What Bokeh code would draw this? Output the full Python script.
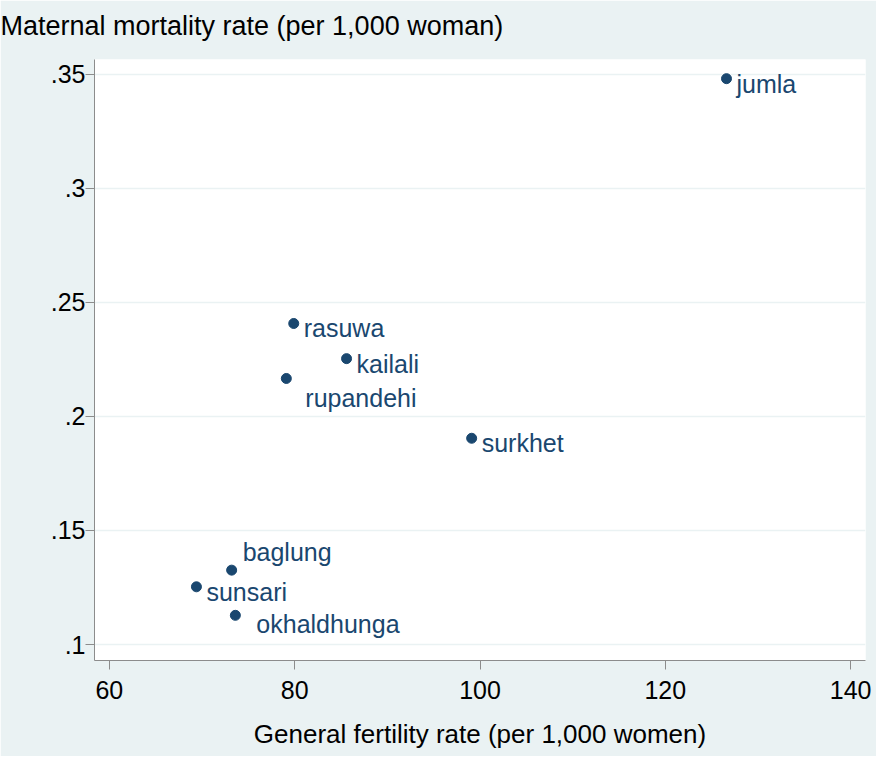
from bokeh.plotting import figure
from bokeh.models import Range1d, FixedTicker, CustomJSTickFormatter, ColumnDataSource, Title
from bokeh.embed import file_html
from bokeh.resources import INLINE

# ---- data ----
districts = ["jumla", "rasuwa", "kailali", "rupandehi", "surkhet", "baglung", "sunsari", "okhaldhunga"]
fertility_rate = [126.6, 79.9, 85.6, 79.1, 99.1, 73.2, 69.4, 73.6]
mortality_rate = [0.348, 0.2407, 0.2253, 0.2166, 0.1904, 0.1326, 0.1253, 0.1128]
label_clock = [3, 3, 3, 5, 3, 1, 3, 4]   # Stata-style marker label positions

x_ticks = [60, 80, 100, 120, 140]
y_ticks = [0.1, 0.15, 0.2, 0.25, 0.3, 0.35]
y_tick_labels = [".1", ".15", ".2", ".25", ".3", ".35"]

x_title = "General fertility rate (per 1,000 women)"
y_title = "Maternal mortality rate (per 1,000 woman)"

x_lim = (58.4, 141.6)
y_lim = (0.093, 0.3564)

# ---- styling ----
BG = "#EAF2F3"
NAVY = "#1a476f"
AXIS = "#8c8c8c"
FONT = "Liberation Sans"
clock_offsets = {3: (10, 5), 5: (19, 20), 4: (21, 9), 1: (11, -18)}

src = ColumnDataSource(dict(
    x=fertility_rate, y=mortality_rate, name=districts,
    xo=[clock_offsets[c][0] for c in label_clock],
    yo=[clock_offsets[c][1] for c in label_clock],
))

p = figure(width=878, height=758, output_backend="svg", toolbar_location=None,
           x_range=Range1d(*x_lim), y_range=Range1d(*y_lim), title=None,
           min_border_left=94, min_border_right=13, min_border_top=59, min_border_bottom=98)
p.styles = {"border-left": "2px solid black", "border-top": "2px solid black",
            "margin-left": "-2px", "margin-top": "-2px"}

p.background_fill_color = "white"
p.border_fill_color = BG
p.outline_line_color = None

# y-axis title placed Stata-style, horizontally above the plot region (with a spacer panel)
spacer = Title(text=" ", text_font_size="10px", standoff=6, text_color=BG)
ytitle = Title(text=y_title, align="left", offset=-94, standoff=0, vertical_align="bottom",
               text_font=FONT, text_font_size="27px", text_font_style="normal", text_color="black")
p.add_layout(spacer, "above")
p.add_layout(ytitle, "above")

p.scatter("x", "y", source=src, size=10, fill_color=NAVY, line_color=NAVY)
p.text("x", "y", text="name", source=src, x_offset="xo", y_offset="yo",
       text_font_size="25px", text_color=NAVY, text_baseline="alphabetic", text_align="left",
       text_font={"value": FONT})

xa = p.xaxis[0]
xa.ticker = FixedTicker(ticks=x_ticks)
xa.axis_label = x_title
ya = p.yaxis[0]
ya.ticker = FixedTicker(ticks=y_ticks)
ya.formatter = CustomJSTickFormatter(args=dict(t=y_ticks, l=y_tick_labels), code="""
    for (let i = 0; i < t.length; i++) { if (Math.abs(t[i] - tick) < 1e-9) return l[i]; }
    return String(tick);
""")

for ax in (xa, ya):
    ax.axis_line_color = AXIS
    ax.major_tick_line_color = AXIS
    ax.major_tick_out = 9
    ax.major_tick_in = 0
    ax.minor_tick_line_color = None
    ax.major_label_text_font = FONT
    ax.major_label_text_font_size = "25px"
    ax.major_label_text_color = "black"
    ax.axis_label_text_font = FONT
    ax.axis_label_text_font_size = "26px"
    ax.axis_label_text_font_style = "normal"
    ax.axis_label_text_color = "black"

xa.major_label_standoff = 11
xa.axis_label_standoff = 17
ya.major_label_standoff = 0

p.xgrid.grid_line_color = None
p.ygrid.grid_line_color = BG
p.ygrid.grid_line_width = 1.5

open("out.html", "w").write(file_html(p, INLINE))
